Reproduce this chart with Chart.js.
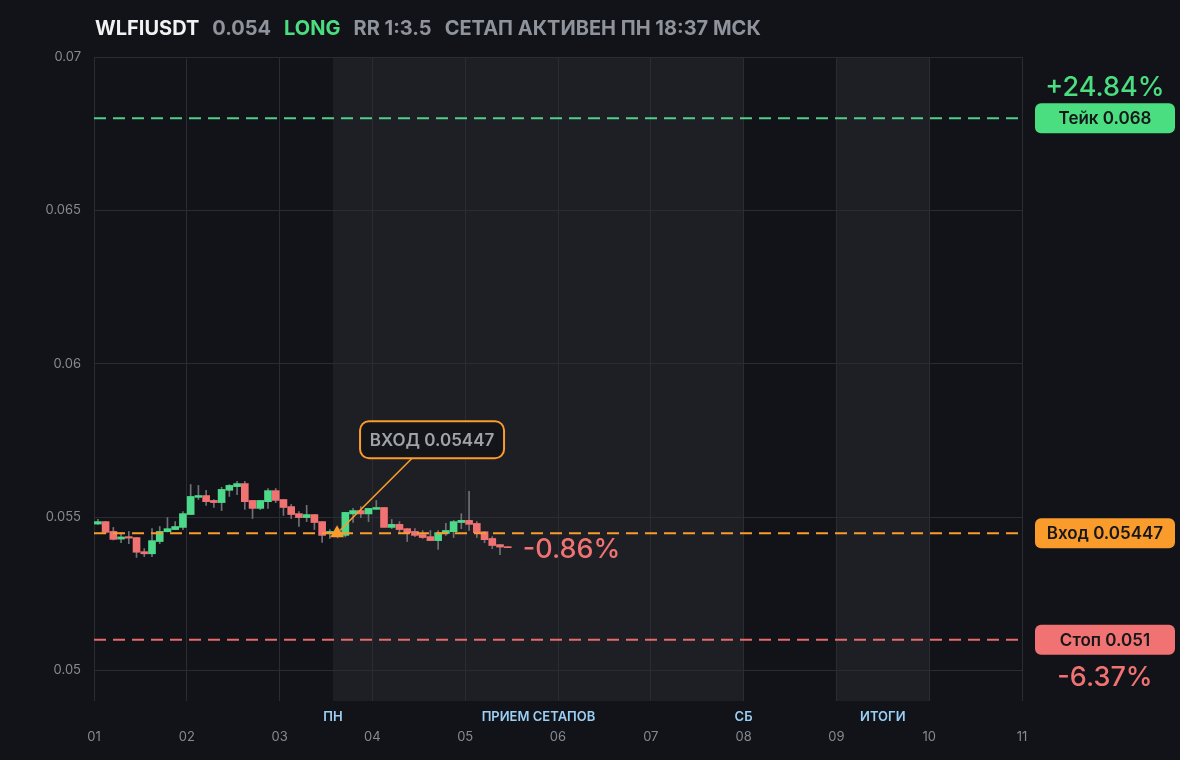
<!DOCTYPE html>
<html><head><meta charset="utf-8">
<script src="https://cdn.jsdelivr.net/npm/chart.js@4.4.1/dist/chart.umd.min.js"></script>
<style>
html,body{margin:0;padding:0;background:#121318;width:1180px;height:760px;overflow:hidden}
#wrap{position:relative;width:1180px;height:760px}
canvas{position:absolute;left:0;top:0}
#title{position:absolute;left:95px;top:17px;font:700 20px Inter, "Noto Sans", sans-serif;line-height:22px;white-space:nowrap;display:flex;gap:13px;color:#8f939b}
#title .w{color:#f2f2f2}
#title .g{color:#4ade80}
</style></head>
<body><div id="wrap"><canvas id="c" width="1180" height="760"></canvas>
<div id="title"><span class="w">WLFIUSDT</span><span>0.054</span><span class="g">LONG</span><span>RR 1:3.5</span><span>СЕТАП АКТИВЕН ПН 18:37 МСК</span></div></div>
<script>
// ---- data ----
const opens  = [0.05477,0.05485,0.05453,0.05428,0.05436,0.05433,0.05387,0.05380,0.05420,0.05452,0.05459,0.05466,0.05508,0.05564,0.05570,0.05554,0.05547,0.05587,0.05599,0.05609,0.05554,0.05528,0.05550,0.05586,0.05557,0.05534,0.05511,0.05498,0.05508,0.05485,0.05446,0.05450,0.05440,0.05510,0.05521,0.05510,0.05525,0.05531,0.05466,0.05476,0.05462,0.05453,0.05443,0.05436,0.05423,0.05446,0.05452,0.05482,0.05489,0.05479,0.05452,0.05430,0.05410,0.05403];
const highs  = [0.05492,0.05486,0.05466,0.05448,0.05453,0.05433,0.05397,0.05462,0.05469,0.05498,0.05485,0.05518,0.05606,0.05603,0.05587,0.05557,0.05597,0.05606,0.05616,0.05616,0.05554,0.05554,0.05593,0.05593,0.05557,0.05541,0.05518,0.05538,0.05508,0.05485,0.05459,0.05456,0.05515,0.05528,0.05534,0.05528,0.05554,0.05531,0.05492,0.05485,0.05462,0.05462,0.05456,0.05456,0.05456,0.05479,0.05489,0.05511,0.05584,0.05485,0.05452,0.05436,0.05410,0.05403];
const lows   = [0.05476,0.05446,0.05425,0.05416,0.05413,0.05368,0.05371,0.05371,0.05413,0.05451,0.05459,0.05459,0.05508,0.05557,0.05538,0.05531,0.05521,0.05567,0.05573,0.05525,0.05495,0.05524,0.05528,0.05547,0.05505,0.05495,0.05469,0.05485,0.05459,0.05417,0.05430,0.05432,0.05435,0.05482,0.05498,0.05485,0.05525,0.05466,0.05462,0.05446,0.05420,0.05436,0.05430,0.05423,0.05394,0.05440,0.05433,0.05462,0.05456,0.05433,0.05416,0.05397,0.05377,0.05400];
const closes = [0.05485,0.05450,0.05427,0.05435,0.05431,0.05385,0.05380,0.05423,0.05453,0.05462,0.05469,0.05511,0.05567,0.05570,0.05550,0.05547,0.05590,0.05603,0.05609,0.05550,0.05528,0.05554,0.05586,0.05554,0.05531,0.05508,0.05498,0.05508,0.05482,0.05440,0.05453,0.05444,0.05515,0.05521,0.05510,0.05528,0.05531,0.05466,0.05476,0.05459,0.05449,0.05440,0.05433,0.05423,0.05449,0.05456,0.05485,0.05489,0.05476,0.05449,0.05426,0.05407,0.05402,0.05400];
const candlesPerDay = 12;
const firstDay = 1;
const takePrice = 0.068;
const entryPrice = 0.05447;
const stopPrice = 0.051;
const entryTime = 3.619;
const xTickValues = [1,2,3,4,5,6,7,8,9,10,11];
const xTickLabels = ["01","02","03","04","05","06","07","08","09","10","11"];
const yTickValues = [0.05,0.055,0.06,0.065,0.07];
const yTickLabels = ["0.05","0.055","0.06","0.065","0.07"];
const bandStarts = [3.575, 9];
const bandEnds   = [8, 10];
const zoneNames  = ["ПН","ПРИЕМ СЕТАПОВ","СБ","ИТОГИ"];
const zoneAt     = [3.575, 5.79, 8, 9.5];

// ---- colors ----
const BG='#121318', BAND='#1e1f24', GRID='#2a2c32', TICK='#868a92';
const GREEN='#4ade80', RED='#f07272', ORANGE='#fa9c2c', WICK='#6e7178';
const FONT='Inter, "Noto Sans", sans-serif';

const times = opens.map((_,i)=> firstDay + (i+0.5)/candlesPerDay);
const bodyData = opens.map((o,i)=>({x:times[i], y:[o, closes[i]]}));
const wickData = opens.map((o,i)=>({x:times[i], y:[lows[i], highs[i]]}));
const bodyColors = opens.map((o,i)=> closes[i]>=o ? '#4cd98a' : RED);
const lastClose = closes[closes.length-1];
const pct = v => { const p=(v-entryPrice)/entryPrice*100; return (p>=0?'+':'')+p.toFixed(2)+'%'; };

function levelLine(price,color){
  return {type:'line', data:[{x:xTickValues[0],y:price},{x:xTickValues[xTickValues.length-1],y:price}],
    borderColor:color, borderWidth:2, borderDash:[12,7], pointRadius:0, order:0, clip:false};
}
function rrect(ctx,x,y,w,h,r){ctx.beginPath();ctx.moveTo(x+r,y);ctx.arcTo(x+w,y,x+w,y+h,r);ctx.arcTo(x+w,y+h,x,y+h,r);ctx.arcTo(x,y+h,x,y,r);ctx.arcTo(x,y,x+w,y,r);ctx.closePath();}

const decor = {
  id:'decor',
  beforeDraw(chart){
    const {ctx, chartArea:a, scales:{x}} = chart;
    ctx.save();
    ctx.fillStyle=BG; ctx.fillRect(0,0,chart.width,chart.height);
    ctx.fillStyle=BAND;
    bandStarts.forEach((s,i)=>{
      const x0=x.getPixelForValue(s), x1=x.getPixelForValue(bandEnds[i]);
      ctx.fillRect(x0,a.top,x1-x0,a.bottom-a.top);
    });
    ctx.restore();
  },
  afterDraw(chart){
    const {ctx, chartArea:a, scales:{x,y}} = chart;
    ctx.save();
    // zone labels
    ctx.font='600 13px '+FONT; ctx.fillStyle='#9ccff5'; ctx.textAlign='center'; ctx.textBaseline='middle';
    zoneNames.forEach((n,i)=> ctx.fillText(n, x.getPixelForValue(zoneAt[i]), 717));
    // right-side level boxes
    const bx=1035, bw=140, bh=30;
    const box=(price,color,text)=>{
      const cy=y.getPixelForValue(price);
      ctx.fillStyle=color; rrect(ctx,bx,cy-bh/2,bw,bh,6); ctx.fill();
      ctx.fillStyle='#16171a'; ctx.font='600 17px '+FONT; ctx.textAlign='center'; ctx.textBaseline='middle';
      ctx.fillText(text,bx+bw/2,cy+1);
      return cy;
    };
    const ty=box(takePrice,GREEN,'Тейк '+takePrice);
    box(entryPrice,ORANGE,'Вход '+entryPrice);
    const sy=box(stopPrice,RED,'Стоп '+stopPrice);
    ctx.font='500 27px '+FONT; ctx.textAlign='center'; ctx.textBaseline='middle';
    ctx.fillStyle=GREEN; ctx.fillText(pct(takePrice),bx+bw/2,ty-30);
    ctx.fillStyle=RED; ctx.fillText(pct(stopPrice),bx+bw/2,sy+38);
    // current pct next to last candle
    const lx=x.getPixelForValue(times[times.length-1]), ly=y.getPixelForValue(lastClose);
    ctx.textAlign='left'; ctx.fillStyle=RED; ctx.font='500 27px '+FONT;
    ctx.fillText(pct(lastClose), lx+15, ly+2);
    // entry callout
    const ex=x.getPixelForValue(entryTime), ey=y.getPixelForValue(entryPrice);
    const bxl=ex+23, byt=ey-112, cbw=144, cbh=37;
    ctx.strokeStyle=ORANGE; ctx.lineWidth=1.6;
    ctx.beginPath(); ctx.moveTo(ex+3,ey-3); ctx.lineTo(ex+75,byt+cbh); ctx.stroke();
    ctx.fillStyle='#141519'; ctx.lineWidth=2; rrect(ctx,bxl,byt,cbw,cbh,9); ctx.fill(); ctx.stroke();
    ctx.fillStyle='#9fa3aa'; ctx.font='600 17px '+FONT; ctx.textAlign='center'; ctx.textBaseline='middle';
    ctx.fillText('ВХОД '+entryPrice, bxl+cbw/2, byt+cbh/2+1);
    ctx.restore();
  }
};

new Chart(document.getElementById('c'), {
  type:'bar',
  data:{datasets:[
    {type:'scatter', data:[{x:entryTime,y:entryPrice}], pointStyle:'triangle', radius:8, backgroundColor:ORANGE, borderColor:ORANGE, borderWidth:0, order:-1},
    levelLine(takePrice,'#4fd08a'),
    levelLine(entryPrice,ORANGE),
    levelLine(stopPrice,'#e86a6a'),
    {type:'bar', data:bodyData, backgroundColor:bodyColors, barThickness:7, grouped:false, minBarLength:1, order:1},
    {type:'bar', data:wickData, backgroundColor:WICK, barThickness:1, grouped:false, order:2}
  ]},
  options:{
    responsive:false, animation:false, devicePixelRatio:1,
    layout:{padding:{left:0,right:158,top:57,bottom:0}},
    plugins:{legend:{display:false}, tooltip:{enabled:false}},
    scales:{
      x:{type:'linear', min:xTickValues[0], max:xTickValues[xTickValues.length-1], offset:false,
         afterFit:s=>{s.height=59;},
         afterBuildTicks:s=>{s.ticks=xTickValues.map(v=>({value:v}));},
         grid:{color:GRID, drawTicks:false, lineWidth:1, offset:false}, border:{display:false},
         ticks:{color:TICK, font:{family:FONT,size:13}, padding:28, maxRotation:0, autoSkip:false,
           callback:(v)=>xTickLabels[xTickValues.indexOf(v)]}},
      y:{type:'linear', min:0.049, max:0.07,
         afterFit:s=>{s.width=94;},
         afterBuildTicks:s=>{s.ticks=yTickValues.map(v=>({value:v}));},
         grid:{color:GRID, drawTicks:false, lineWidth:1}, border:{display:false},
         ticks:{color:TICK, font:{family:FONT,size:13}, padding:13,
           callback:(v)=>yTickLabels[yTickValues.indexOf(v)]}}
    }
  },
  plugins:[decor]
});
</script></body></html>
